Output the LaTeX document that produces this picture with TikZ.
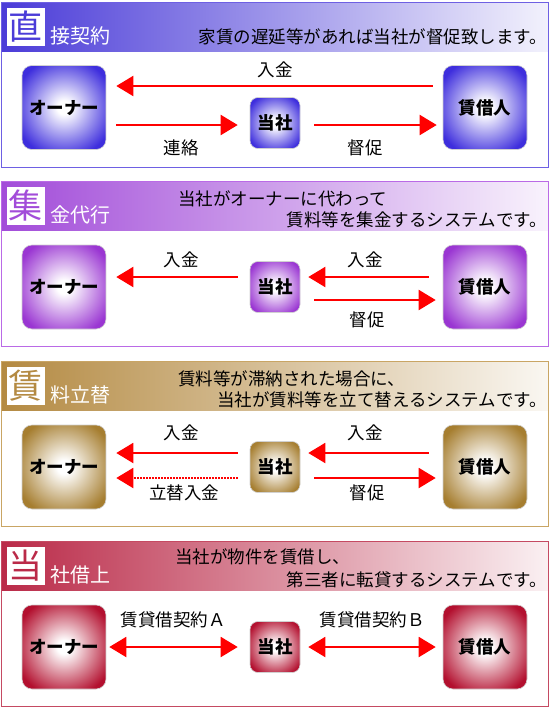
\documentclass[tikz,border=0pt]{standalone}
\usepackage{fontspec}
\setmainfont{Noto Sans CJK JP}
\usetikzlibrary{arrows.meta}
\definecolor{hA}{HTML}{4B3CD8}
\definecolor{bA}{HTML}{3E2EDD}
\definecolor{rA}{HTML}{6E60E3}
\definecolor{hB}{HTML}{A24CD9}
\definecolor{bB}{HTML}{9A36D2}
\definecolor{rB}{HTML}{BA6AE6}
\definecolor{hC}{HTML}{B48A42}
\definecolor{bC}{HTML}{A67E30}
\definecolor{rC}{HTML}{C9A564}
\definecolor{hD}{HTML}{BA2A48}
\definecolor{bD}{HTML}{B3102F}
\definecolor{rD}{HTML}{C54A62}
\pgfdeclareradialshading{shA}{\pgfpoint{0bp}{0bp}}{color(0bp)=(white); color(4bp)=(white); color(30bp)=(bA); color(50bp)=(bA)}
\pgfdeclareradialshading{shB}{\pgfpoint{0bp}{0bp}}{color(0bp)=(white); color(4bp)=(white); color(30bp)=(bB); color(50bp)=(bB)}
\pgfdeclareradialshading{shC}{\pgfpoint{0bp}{0bp}}{color(0bp)=(white); color(4bp)=(white); color(30bp)=(bC); color(50bp)=(bC)}
\pgfdeclareradialshading{shD}{\pgfpoint{0bp}{0bp}}{color(0bp)=(white); color(4bp)=(white); color(30bp)=(bD); color(50bp)=(bD)}
\tikzset{
  bigbox/.style={rounded corners=10pt, minimum width=84pt, minimum height=84pt, inner sep=0pt,
    draw=black!18, line width=0.6pt, shade, font=\bfseries\fontsize{17.5}{20}\selectfont},
  midbox/.style={bigbox, rounded corners=8pt, minimum width=50pt, minimum height=51pt},
  lbl/.style={inner sep=0pt, font=\fontsize{17.5}{20}\selectfont},
  hdtext/.style={inner sep=0pt, font=\fontsize{17.5}{20}\selectfont},
  arr/.style={draw=red, line width=2pt, -{Triangle[length=17pt,width=20pt]}},
  darr/.style={draw=red, line width=2pt, {Triangle[length=17pt,width=20pt]}-{Triangle[length=17pt,width=20pt]}},
  dotarr/.style={arr, dash pattern=on 1.5pt off 1.5pt},
  kbox/.style={fill=white, minimum size=38pt, inner sep=0pt, font=\fontsize{34}{34}\selectfont},
  ttl/.style={anchor=west, inner sep=0pt, text=white, font=\fontsize{20}{22}\selectfont},
}
\newcommand\panelframe[6]{%
  \begin{scope}[shift={(0,#1)}]
    \shade[left color=#2, right color=#2!7] (1.5,0.5) rectangle (548.5,49.5);
    \draw[#3, line width=1pt] (1.5,0.5) rectangle (548.5,165.5);
    \node[kbox, text=#2] (k#6) at (25.5,24.5) {#4};
    \node[ttl] (n#6) at (50,34) {#5};
  \end{scope}}
\begin{document}
\begin{tikzpicture}[x=1pt,y=-1pt]
\useasboundingbox (0,0) rectangle (555,707);
\fill[white] (0,0) rectangle (555,707);

% ---------- panel 1 ----------
\panelframe{2}{hA}{rA}{直}{接契約}{1}
\node[hdtext, anchor=east] (h1) at (547,37) {家賃の遅延等があれば当社が督促致します。};
\node[bigbox, shading=shA] (o1) at (64,107.5) {オーナー};
\node[midbox, shading=shA] (s1) at (275,123) {当社};
\node[bigbox, shading=shA] (t1) at (485,107.5) {賃借人};
\draw[arr] ([xshift=-10pt,yshift=21.5pt]t1.west) -- ([xshift=10pt,yshift=21.5pt]o1.east);
\draw[arr] ([xshift=10pt,yshift=-17.5pt]o1.east) -- ([xshift=-12pt,yshift=-2pt]s1.west);
\draw[arr] ([xshift=14pt,yshift=-2pt]s1.east) -- ([xshift=-6pt,yshift=-17.5pt]t1.west);
\node[lbl] (l1a) at (275,70) {入金};
\node[lbl] (l1b) at (181,148) {連絡};
\node[lbl] (l1c) at (365,148) {督促};

% ---------- panel 2 ----------
\panelframe{181}{hB}{rB}{集}{金代行}{2}
\node[hdtext, anchor=west] (h2a) at (178,199) {当社がオーナーに代わって};
\node[hdtext, anchor=east] (h2b) at (547,220) {賃料等を集金するシステムです。};
\node[bigbox, shading=shB] (o2) at (64,287) {オーナー};
\node[midbox, shading=shB] (s2) at (275,287) {当社};
\node[bigbox, shading=shB] (t2) at (485,287) {賃借人};
\draw[arr] ([xshift=-12pt,yshift=10pt]s2.west) -- ([xshift=10pt,yshift=10pt]o2.east);
\draw[arr] ([xshift=-14pt,yshift=10pt]t2.west) -- ([xshift=8pt,yshift=10pt]s2.east);
\draw[arr] ([xshift=14pt,yshift=-13pt]s2.east) -- ([xshift=-7pt,yshift=-13pt]t2.west);
\node[lbl] (l2a) at (181,260) {入金};
\node[lbl] (l2b) at (365,260) {入金};
\node[lbl] (l2c) at (367,320) {督促};

% ---------- panel 3 ----------
\panelframe{361}{hC}{rC}{賃}{料立替}{3}
\node[hdtext, anchor=west] (h3a) at (178,379) {賃料等が滞納された場合に、};
\node[hdtext, anchor=east] (h3b) at (547,400) {当社が賃料等を立て替えるシステムです。};
\node[bigbox, shading=shC] (o3) at (64,467) {オーナー};
\node[midbox, shading=shC] (s3) at (275,467) {当社};
\node[bigbox, shading=shC] (t3) at (485,467) {賃借人};
\draw[arr] ([xshift=-12pt,yshift=14pt]s3.west) -- ([xshift=10pt,yshift=14pt]o3.east);
\draw[dotarr] ([xshift=-12pt,yshift=-11pt]s3.west) -- ([xshift=10pt,yshift=-11pt]o3.east);
\draw[arr] ([xshift=-14pt,yshift=14pt]t3.west) -- ([xshift=8pt,yshift=14pt]s3.east);
\draw[arr] ([xshift=14pt,yshift=-11pt]s3.east) -- ([xshift=-7pt,yshift=-11pt]t3.west);
\node[lbl] (l3a) at (181,433) {入金};
\node[lbl] (l3b) at (184,493) {立替入金};
\node[lbl] (l3c) at (365,433) {入金};
\node[lbl] (l3d) at (367,493) {督促};

% ---------- panel 4 ----------
\panelframe{541}{hD}{rD}{当}{社借上}{4}
\node[hdtext, anchor=west] (h4a) at (175,557) {当社が物件を賃借し、};
\node[hdtext, anchor=east] (h4b) at (547,580) {第三者に転貸するシステムです。};
\node[bigbox, shading=shD] (o4) at (64,647) {オーナー};
\node[midbox, shading=shD] (s4) at (275,647) {当社};
\node[bigbox, shading=shD] (t4) at (485,647) {賃借人};
\draw[darr] ([xshift=3pt]o4.east) -- ([xshift=-12pt]s4.west);
\draw[darr] ([xshift=8pt]s4.east) -- ([xshift=-7pt]t4.west);
\node[lbl] (l4a) at (173,620) {賃貸借契約Ａ};
\node[lbl] (l4b) at (372,620) {賃貸借契約Ｂ};
\end{tikzpicture}
\end{document}
